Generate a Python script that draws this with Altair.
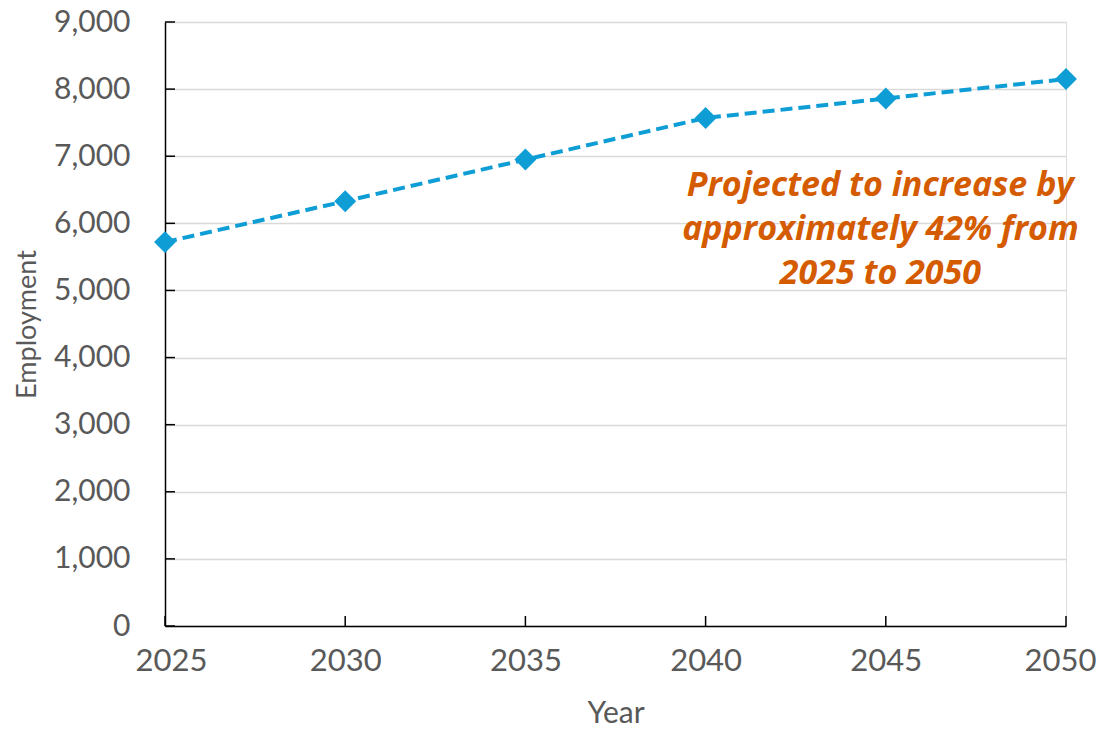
import altair as alt
import pandas as pd

years = [2025, 2030, 2035, 2040, 2045, 2050]
employment = [5720, 6330, 6950, 7570, 7860, 8150]
y_ticks = [0, 1000, 2000, 3000, 4000, 5000, 6000, 7000, 8000, 9000]
note_lines = ["Projected to increase by", "approximately 42% from", "2025 to 2050"]
note_year = [2044.85]
note_value = [6560]

W, H = 901, 604
FONT = "Lato"
GRAY = "#595959"
BLUE = "#0E9ED5"
ORANGE = "#D55B00"

df = pd.DataFrame({"Year": years, "Employment": employment})
ticks_y = pd.DataFrame({"v": y_ticks})
ticks_x = pd.DataFrame({"Year": years})
note = pd.DataFrame({"Year": note_year, "Employment": note_value, "t": [note_lines]})

xscale = alt.Scale(domain=[2025, 2050], nice=False, zero=False)
yscale = alt.Scale(domain=[0, 9000], nice=False)

x_axis = alt.Axis(values=years, format="d", title="Year", grid=False, ticks=False,
                  labelPadding=20, titlePadding=22, domainColor="black", domainWidth=1.5,
                  labelFont=FONT, labelFontSize=31, labelColor=GRAY,
                  titleFont=FONT, titleFontSize=30, titleColor=GRAY, titleFontWeight="normal",
                  labelFlush=True, labelFlushOffset=30)
y_axis = alt.Axis(values=y_ticks, format=",d", title="Employment", grid=True, ticks=False,
                  gridColor="#D9D9D9", gridWidth=1.5, labelPadding=35, titlePadding=12,
                  domainColor="black", domainWidth=1.5,
                  labelFont=FONT, labelFontSize=30, labelColor=GRAY,
                  titleFont=FONT, titleFontSize=27, titleColor=GRAY, titleFontWeight="normal")

base = alt.Chart(df)
line = base.mark_line(color=BLUE, strokeWidth=4, strokeDash=[12, 6]).encode(
    x=alt.X("Year:Q", scale=xscale, axis=x_axis),
    y=alt.Y("Employment:Q", scale=yscale, axis=y_axis),
)
pts = base.mark_point(shape="diamond", filled=True, size=480, color=BLUE, opacity=1).encode(
    x=alt.X("Year:Q", scale=xscale),
    y=alt.Y("Employment:Q", scale=yscale),
)
ytick_rules = alt.Chart(ticks_y).mark_rule(color="black", strokeWidth=1.5).encode(
    y=alt.Y("v:Q", scale=yscale), x=alt.value(0), x2=alt.value(10)
)
xtick_rules = alt.Chart(ticks_x).mark_rule(color="black", strokeWidth=1.5).encode(
    x=alt.X("Year:Q", scale=xscale), y=alt.value(H - 10), y2=alt.value(H)
)
text = alt.Chart(note).mark_text(font="Open Sans", fontSize=34, fontWeight="bold", fontStyle="italic",
                                 color=ORANGE, align="center", baseline="middle",
                                 lineHeight=44).encode(
    x=alt.X("Year:Q", scale=xscale), y=alt.Y("Employment:Q", scale=yscale), text="t"
)

chart = alt.layer(ytick_rules, xtick_rules, line, pts, text).properties(
    width=W, height=H,
    autosize=alt.AutoSizeParams(type="none"),
    padding={"left": 157, "top": 14, "right": 30, "bottom": 110},
).configure_view(stroke=None).configure(background="white")

chart.save("out.html", embed_options={"renderer": "svg", "actions": False})
